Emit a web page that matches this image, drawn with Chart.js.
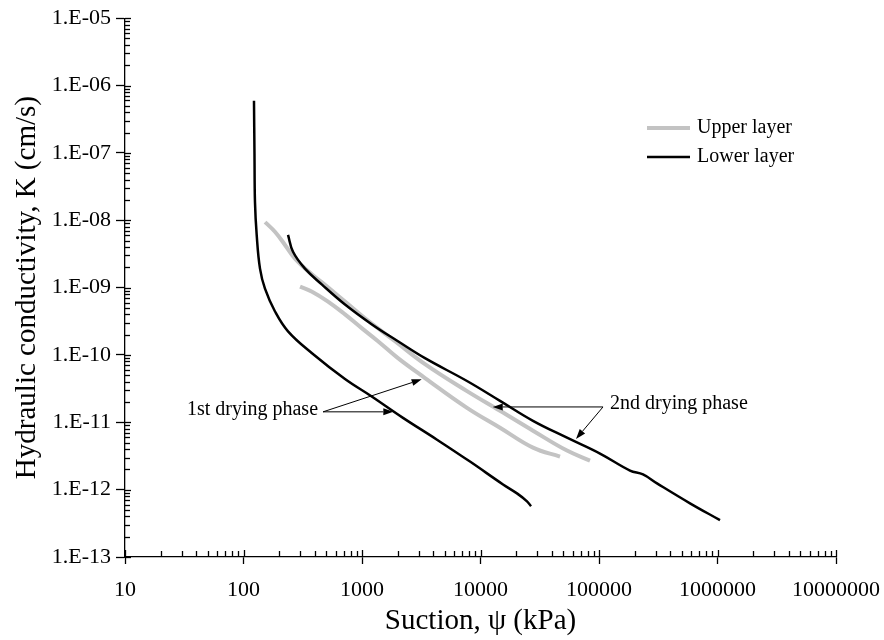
<!DOCTYPE html>
<html>
<head>
<meta charset="utf-8">
<script src="https://cdn.jsdelivr.net/npm/chart.js@4/dist/chart.umd.min.js"></script>
<style>
    html, body { margin: 0; padding: 0; background: #fff; }
    #wrap { width: 884px; height: 640px; }
</style>
</head>
<body>
<div id="wrap"><canvas id="chart" width="884" height="640"></canvas></div>
<script>
'use strict';

// Valores: sucção em kPa, K em cm/s
const upperFirstSuction = [152, 185, 224, 272, 379, 487, 719, 1060, 1899, 3400, 7692, 14610, 27730, 53700, 84000];
const upperFirstK = [9.4e-9, 6.7e-9, 4.3e-9, 2.7e-9, 1.56e-9, 1.1e-9, 6.2e-10, 3.5e-10, 1.6e-10, 7.3e-11, 2.9e-11, 1.48e-11, 7.5e-12, 3.8e-12, 2.7e-12];

const upperSecondSuction = [300, 379, 517, 719, 1000, 1365, 2012, 3400, 7692, 14610, 27730, 46880];
const upperSecondK = [1.035e-9, 8.7e-10, 6.2e-10, 4.0e-10, 2.48e-10, 1.6e-10, 8.95e-11, 4.54e-11, 1.64e-11, 8.3e-12, 4.2e-12, 3.1e-12];

const lowerFirstSuction = [122.6, 123.8, 125, 129.2, 137.8, 151.8, 184.5, 237.5, 378.5, 718.6, 1191, 2218, 4295, 8153, 15490, 20320, 24690, 26690];
const lowerFirstK = [5.95e-7, 9.5e-8, 1.86e-8, 6.06e-9, 1.91e-9, 9.66e-10, 4.42e-10, 2.24e-10, 1.06e-10, 4.4e-11, 2.46e-11, 1.165e-11, 5.52e-12, 2.61e-12, 1.195e-12, 8.8e-13, 6.71e-13, 5.66e-13];

const lowerSecondSuction = [237.5, 261.7, 330.4, 459.7, 718.6, 1214, 2012, 3400, 7692, 14610, 27730, 53700, 101950, 182700, 235100, 308700, 586100, 1050000];
const lowerSecondK = [6.06e-9, 3.4e-9, 1.91e-9, 1.107e-9, 5.61e-10, 2.84e-10, 1.596e-10, 8.95e-11, 4.1e-11, 2.08e-11, 1.052e-11, 5.9e-12, 3.43e-12, 1.92e-12, 1.68e-12, 1.24e-12, 6.27e-13, 3.52e-13];

// eixos
const xDecades = [1, 2, 3, 4, 5, 6, 7];
const xTickLabels = ['10', '100', '1000', '10000', '100000', '1000000', '10000000'];
const yDecades = [-13, -12, -11, -10, -9, -8, -7, -6, -5];
const yTickLabels = ['1.E-13', '1.E-12', '1.E-11', '1.E-10', '1.E-09', '1.E-08', '1.E-07', '1.E-06', '1.E-05'];

// setas de anotação (coordenadas em valores dos eixos)
const annotations = [
    { text: '1st drying phase', at: [469, 1.43e-11], align: 'right', tips: [[3190, 4.34e-11], [1837, 1.43e-11]] },
    { text: '2nd drying phase', at: [108100, 1.69e-11], align: 'left', tips: [[12680, 1.69e-11], [63960, 5.65e-12]] }
];

const FONT = '"Liberation Serif", "Times New Roman", serif';
const GRAY = '#c3c3c3';

function zip(xs, ys) {
    return xs.map((x, i) => ({ x, y: ys[i] }));
}

function decadeTicks(exps, labels) {
    const out = [];
    exps.forEach((e, i) => {
        out.push({ value: Math.pow(10, e), major: true, text: labels[i] });
        if (i < exps.length - 1) {
            for (let m = 2; m <= 9; m++) out.push({ value: m * Math.pow(10, e), major: false, text: '' });
        }
    });
    return out;
}

const xTicks = decadeTicks(xDecades, xTickLabels);
const yTicks = decadeTicks(yDecades, yTickLabels);

const tickColor = (c) => (c.tick && c.tick.major ? '#000' : 'rgba(0,0,0,0)');

// marcas internas dos eixos
const innerTicksPlugin = {
    id: 'innerTicks',
    afterDraw(chart) {
        const { ctx, chartArea, scales } = chart;
        ctx.save();
        ctx.strokeStyle = '#000';
        ctx.lineWidth = 1.3;
        scales.x.ticks.forEach(t => {
            const px = Math.round(scales.x.getPixelForValue(t.value)) + 0.5;
            const len = t.major ? 7 : 6;
            ctx.beginPath();
            ctx.moveTo(px, chartArea.bottom);
            ctx.lineTo(px, chartArea.bottom - len);
            ctx.stroke();
        });
        scales.y.ticks.forEach(t => {
            const py = Math.round(scales.y.getPixelForValue(t.value)) + 0.5;
            const len = t.major ? 6 : 5;
            ctx.beginPath();
            ctx.moveTo(chartArea.left, py);
            ctx.lineTo(chartArea.left + len, py);
            ctx.stroke();
        });
        ctx.restore();
    }
};

function arrow(ctx, x0, y0, x1, y1) {
    const ang = Math.atan2(y1 - y0, x1 - x0);
    const hl = 10, hw = 3.5;
    ctx.beginPath();
    ctx.moveTo(x0, y0);
    ctx.lineTo(x1 - Math.cos(ang) * hl, y1 - Math.sin(ang) * hl);
    ctx.stroke();
    ctx.beginPath();
    ctx.moveTo(x1, y1);
    ctx.lineTo(x1 - Math.cos(ang) * hl - Math.sin(ang) * hw, y1 - Math.sin(ang) * hl + Math.cos(ang) * hw);
    ctx.lineTo(x1 - Math.cos(ang) * hl + Math.sin(ang) * hw, y1 - Math.sin(ang) * hl - Math.cos(ang) * hw);
    ctx.closePath();
    ctx.fill();
}

const annotationPlugin = {
    id: 'dryingNotes',
    afterDatasetsDraw(chart) {
        const { ctx, scales } = chart;
        ctx.save();
        ctx.strokeStyle = '#000';
        ctx.fillStyle = '#000';
        ctx.lineWidth = 1;
        ctx.font = '20px ' + FONT;
        ctx.textBaseline = 'middle';
        annotations.forEach(a => {
            const ox = scales.x.getPixelForValue(a.at[0]);
            const oy = scales.y.getPixelForValue(a.at[1]);
            a.tips.forEach(t => arrow(ctx, ox, oy, scales.x.getPixelForValue(t[0]), scales.y.getPixelForValue(t[1])));
            ctx.textAlign = a.align;
            ctx.fillText(a.text, a.align === 'right' ? ox - 5 : ox + 7, a.align === 'right' ? oy - 2 : oy - 3);
        });
        ctx.restore();
    }
};

// legenda desenhada dentro da área do gráfico
const legendPlugin = {
    id: 'insideLegend',
    afterDraw(chart) {
        const { ctx } = chart;
        const seen = [];
        chart.data.datasets.forEach(ds => {
            if (!seen.find(s => s.label === ds.label)) seen.push(ds);
        });
        ctx.save();
        ctx.font = '20px ' + FONT;
        ctx.textBaseline = 'middle';
        ctx.textAlign = 'left';
        seen.forEach((ds, i) => {
            const y = 128 + i * 29;
            ctx.strokeStyle = ds.borderColor;
            ctx.lineWidth = ds.borderWidth;
            ctx.beginPath();
            ctx.moveTo(647, y);
            ctx.lineTo(690, y);
            ctx.stroke();
            ctx.fillStyle = '#000';
            ctx.fillText(ds.label, 697, y);
        });
        ctx.restore();
    }
};

const lineBase = { showLine: true, pointRadius: 0, fill: false, tension: 0.4 };

new Chart(document.getElementById('chart').getContext('2d'), {
    type: 'scatter',
    data: {
        datasets: [
            { ...lineBase, label: 'Upper layer', data: zip(upperFirstSuction, upperFirstK), borderColor: GRAY, borderWidth: 4, order: 2 },
            { ...lineBase, label: 'Upper layer', data: zip(upperSecondSuction, upperSecondK), borderColor: GRAY, borderWidth: 4, order: 2 },
            { ...lineBase, label: 'Lower layer', data: zip(lowerFirstSuction, lowerFirstK), borderColor: '#000', borderWidth: 2.5, order: 1 },
            { ...lineBase, label: 'Lower layer', data: zip(lowerSecondSuction, lowerSecondK), borderColor: '#000', borderWidth: 2.5, order: 1 }
        ]
    },
    options: {
        responsive: false,
        animation: false,
        devicePixelRatio: 1,
        layout: { padding: { top: 15, right: 48, left: 0, bottom: 0 } },
        plugins: { legend: { display: false }, tooltip: { enabled: false } },
        scales: {
            x: {
                type: 'logarithmic',
                position: 'bottom',
                min: 10,
                max: 1e7,
                afterBuildTicks: s => { s.ticks = xTicks.map(t => ({ ...t })); },
                afterFit: s => { s.height = 83; s.paddingLeft = 0; s.paddingRight = 0; },
                grid: { drawOnChartArea: false, tickLength: 7, tickWidth: 1.3, tickColor },
                border: { color: '#000', width: 1.3 },
                ticks: {
                    autoSkip: false, maxRotation: 0, padding: 13, color: '#000',
                    font: { family: FONT, size: 22 },
                    callback: (v, i, ticks) => ticks[i].text
                },
                title: { display: true, text: 'Suction, ψ (kPa)', color: '#000', font: { family: FONT, size: 29 }, padding: { top: 0, bottom: 1 } }
            },
            y: {
                type: 'logarithmic',
                position: 'left',
                min: 1e-13,
                max: 1e-5,
                afterBuildTicks: s => { s.ticks = yTicks.map(t => ({ ...t })); },
                afterFit: s => { s.width = 125; },
                grid: { drawOnChartArea: false, tickLength: 9, tickWidth: 1.3, tickColor },
                border: { color: '#000', width: 1.3 },
                ticks: {
                    autoSkip: false, padding: 5, color: '#000',
                    font: { family: FONT, size: 22 },
                    callback: (v, i, ticks) => ticks[i].text
                },
                title: { display: true, text: 'Hydraulic conductivity, K (cm/s)', color: '#000', font: { family: FONT, size: 29 }, padding: { top: 10, bottom: 0 } }
            }
        }
    },
    plugins: [innerTicksPlugin, annotationPlugin, legendPlugin]
});
</script>
</body>
</html>
